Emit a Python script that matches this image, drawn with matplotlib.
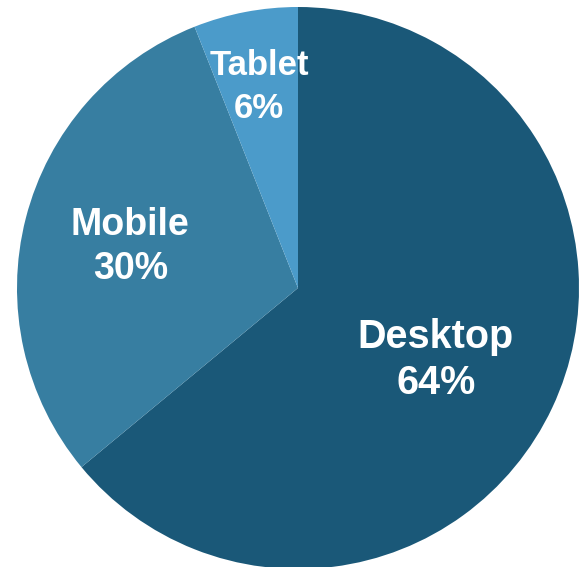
import matplotlib.pyplot as plt
import numpy as np

labels = ['Desktop', 'Mobile', 'Tablet']
shares = [64, 30, 6]
colors = ['#1a5878', '#377ea1', '#4b9bca']

fig = plt.figure(figsize=(5.86, 5.67), dpi=100)
ax = fig.add_axes([0, 0, 1, 1])

R = 281.0
cx, cy = 298.0, 288.0
wedges, _ = ax.pie(shares, colors=colors, startangle=90, counterclock=False,
                   radius=1, wedgeprops=dict(linewidth=0))

ax.set_xlim(-cx / R, (586 - cx) / R)
ax.set_ylim(-(567 - cy) / R, cy / R)
ax.set_aspect('equal')
ax.axis('off')

# label placement / size differs per slice in the original
dist = [0.55, 0.616, 0.74]
sizes = [28.5, 27, 25]
spacing = [1.27, 1.3, 1.4]
nudge = [(-1.5, -4.5), (0, -1.5), (0, -2.5)]  # points
for w, lab, s, d, fs, ls, nd in zip(wedges, labels, shares, dist, sizes, spacing, nudge):
    ang = np.deg2rad((w.theta1 + w.theta2) / 2)
    ax.annotate(f'{lab}\n{s}%', (d * np.cos(ang), d * np.sin(ang)),
                xytext=nd, textcoords='offset points',
                ha='center', va='center', color='white', fontsize=fs,
                fontweight='bold', family='Liberation Sans', linespacing=ls)

fig.savefig('out.png', dpi=100)
